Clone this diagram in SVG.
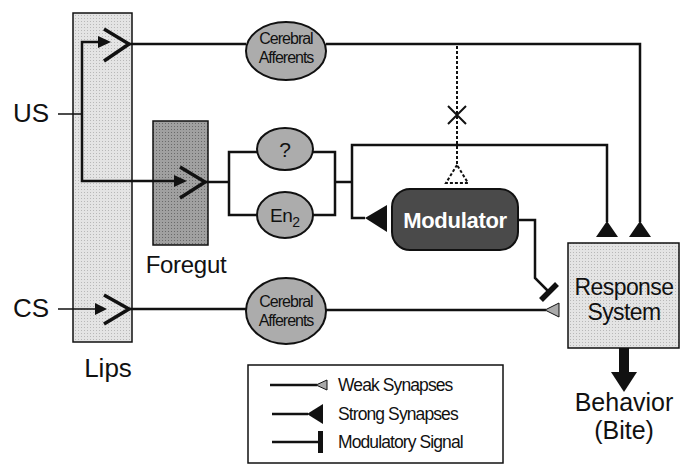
<svg xmlns="http://www.w3.org/2000/svg" width="693" height="464" viewBox="0 0 693 464">
<style>
.t{font-family:"Liberation Sans",Arial,sans-serif;fill:#111}
.ln{fill:none;stroke:#111;stroke-width:2.5;stroke-linejoin:miter}
.thin{fill:none;stroke:#111;stroke-width:1.5}
.chev{fill:none;stroke:#111;stroke-width:3.5;stroke-linejoin:miter}
.strong{fill:#111;stroke:none}
.weak{fill:#aaa;stroke:#111;stroke-width:1}
.ell{fill:#acacac;stroke:#111;stroke-width:2}
.small{font-size:16px;letter-spacing:-1px}
.leg{font-size:17.5px;letter-spacing:-0.9px}
</style>
<defs>
<pattern id="dots" width="3" height="3" patternUnits="userSpaceOnUse">
<rect width="3" height="3" fill="#e4e4e4"/><rect width="1" height="1" fill="#b8b8b8"/>
</pattern>
<pattern id="dotsDark" width="3" height="3" patternUnits="userSpaceOnUse">
<rect width="3" height="3" fill="#a0a0a0"/><rect width="1" height="1" fill="#6a6a6a"/>
</pattern>
</defs>

<g id="lips">
<rect x="73" y="13" width="59" height="329" fill="url(#dots)" stroke="#111" stroke-width="1.5"/>
<text class="t" x="108" y="377" font-size="26" text-anchor="middle">Lips</text>
</g>
<g id="foregut">
<rect x="153" y="121" width="55" height="124" fill="url(#dotsDark)" stroke="#111" stroke-width="1.5"/>
<text class="t" x="186" y="273" font-size="24" text-anchor="middle" letter-spacing="-0.3">Foregut</text>
</g>
<g id="us"><text class="t" x="13" y="122" font-size="26">US</text></g>
<g id="cs"><text class="t" x="13" y="317" font-size="26">CS</text></g>

<g id="cerebral-afferents-top">
<ellipse class="ell" cx="286" cy="51" rx="40" ry="29"/>
<text class="t small" x="286" y="44" text-anchor="middle">Cerebral</text>
<text class="t small" x="286" y="63" text-anchor="middle">Afferents</text>
</g>
<g id="unknown">
<ellipse class="ell" cx="285" cy="149" rx="28" ry="21"/>
<text class="t" x="285" y="157" font-size="21" text-anchor="middle">?</text>
</g>
<g id="en2">
<ellipse class="ell" cx="285" cy="215" rx="28" ry="23"/>
<text class="t" x="270" y="222" font-size="19" letter-spacing="-0.5">En<tspan font-size="14" dy="5">2</tspan></text>
</g>
<g id="cerebral-afferents-bottom">
<ellipse class="ell" cx="286" cy="311" rx="40" ry="33"/>
<text class="t small" x="286" y="307" text-anchor="middle">Cerebral</text>
<text class="t small" x="286" y="326" text-anchor="middle">Afferents</text>
</g>
<g id="modulator">
<rect x="392" y="189" width="126" height="61" rx="18" fill="#4a4a4a" stroke="#111" stroke-width="2"/>
<text x="455" y="228" font-family="Liberation Sans,Arial,sans-serif" font-weight="bold" font-size="22" fill="#fff" text-anchor="middle" letter-spacing="-0.3">Modulator</text>
</g>
<g id="response-system">
<rect x="568" y="243" width="111" height="105" fill="url(#dots)" stroke="#111" stroke-width="1.5"/>
<text class="t" x="624" y="295" font-size="23" text-anchor="middle" letter-spacing="-0.6">Response</text>
<text class="t" x="624" y="320" font-size="23" text-anchor="middle" letter-spacing="-0.6">System</text>
</g>
<g id="behavior">
<text class="t" x="624" y="411" font-size="25" text-anchor="middle">Behavior</text>
<text class="t" x="624" y="439" font-size="25" text-anchor="middle">(Bite)</text>
</g>

<g id="connectors">
<!-- US input -->
<line class="thin" x1="58" y1="114" x2="82" y2="114"/>
<polyline class="ln" points="100,42 82,42 82,181 176,181"/>
<polygon class="strong" points="111,42 98,36 98,48"/>
<polygon class="strong" points="187,181 174,175 174,187"/>
<polyline class="chev" points="104,29 129,44 104,61"/>
<polyline class="chev" points="180,167 205,182 180,198"/>
<!-- top pathway -->
<line class="ln" x1="129" y1="44" x2="246" y2="44"/>
<polyline class="ln" points="326,44 640,44 640,222"/>
<polygon class="strong" points="640,221 629,237 651,237"/>
<!-- foregut pathway -->
<line class="ln" x1="205" y1="182" x2="229" y2="182"/>
<polyline class="ln" points="257,152 229,152 229,215 257,215"/>
<polyline class="ln" points="313,152 335,152 335,215 313,215"/>
<line class="ln" x1="335" y1="182" x2="352" y2="182"/>
<polyline class="ln" points="365,218 352,218 352,145 607,145 607,222"/>
<polygon class="strong" points="607,221 596,237 618,237"/>
<polygon class="strong" points="365,218 387,205 387,232"/>
<!-- blocked pathway -->
<line x1="457" y1="46" x2="457" y2="165" stroke="#111" stroke-width="2" stroke-dasharray="3,2"/>
<path d="M448,106 L466,124 M448,124 L466,106" stroke="#111" stroke-width="2" fill="none"/>
<polygon points="457,165 446,183 468,183" fill="#fff" stroke="#111" stroke-width="2" stroke-dasharray="3,2"/>
<!-- modulatory signal -->
<polyline class="ln" points="518,220 535,220 535,278 548,291"/>
<line x1="541" y1="300" x2="557" y2="284" stroke="#111" stroke-width="5.5"/>
<!-- CS pathway -->
<line class="thin" x1="58" y1="309" x2="96" y2="309"/>
<polygon class="strong" points="107,309 95,303 95,315"/>
<polyline class="chev" points="104,295 129,309 104,324"/>
<line class="ln" x1="129" y1="309" x2="246" y2="309"/>
<line class="ln" x1="326" y1="310" x2="546" y2="310"/>
<polygon class="weak" points="545,310 559,303 559,317"/>
<!-- behavior -->
<rect x="619" y="348" width="10" height="26" fill="#111"/>
<polygon class="strong" points="611,372 637,372 624,392"/>
</g>

<g id="legend">
<rect x="248" y="365" width="255" height="98" fill="#fff" stroke="#111" stroke-width="1.5"/>
<line class="ln" x1="270" y1="385" x2="317" y2="385"/>
<polygon class="weak" points="316,385 327,380 327,390"/>
<text class="t leg" x="338" y="391">Weak Synapses</text>
<line class="ln" x1="272" y1="414" x2="308" y2="414"/>
<polygon class="strong" points="307,414 323,404 323,424"/>
<text class="t leg" x="338" y="420">Strong Synapses</text>
<line class="ln" x1="272" y1="442" x2="319" y2="442"/>
<rect x="318" y="431" width="5" height="22" fill="#111"/>
<text class="t leg" x="338" y="448">Modulatory Signal</text>
</g>
</svg>
